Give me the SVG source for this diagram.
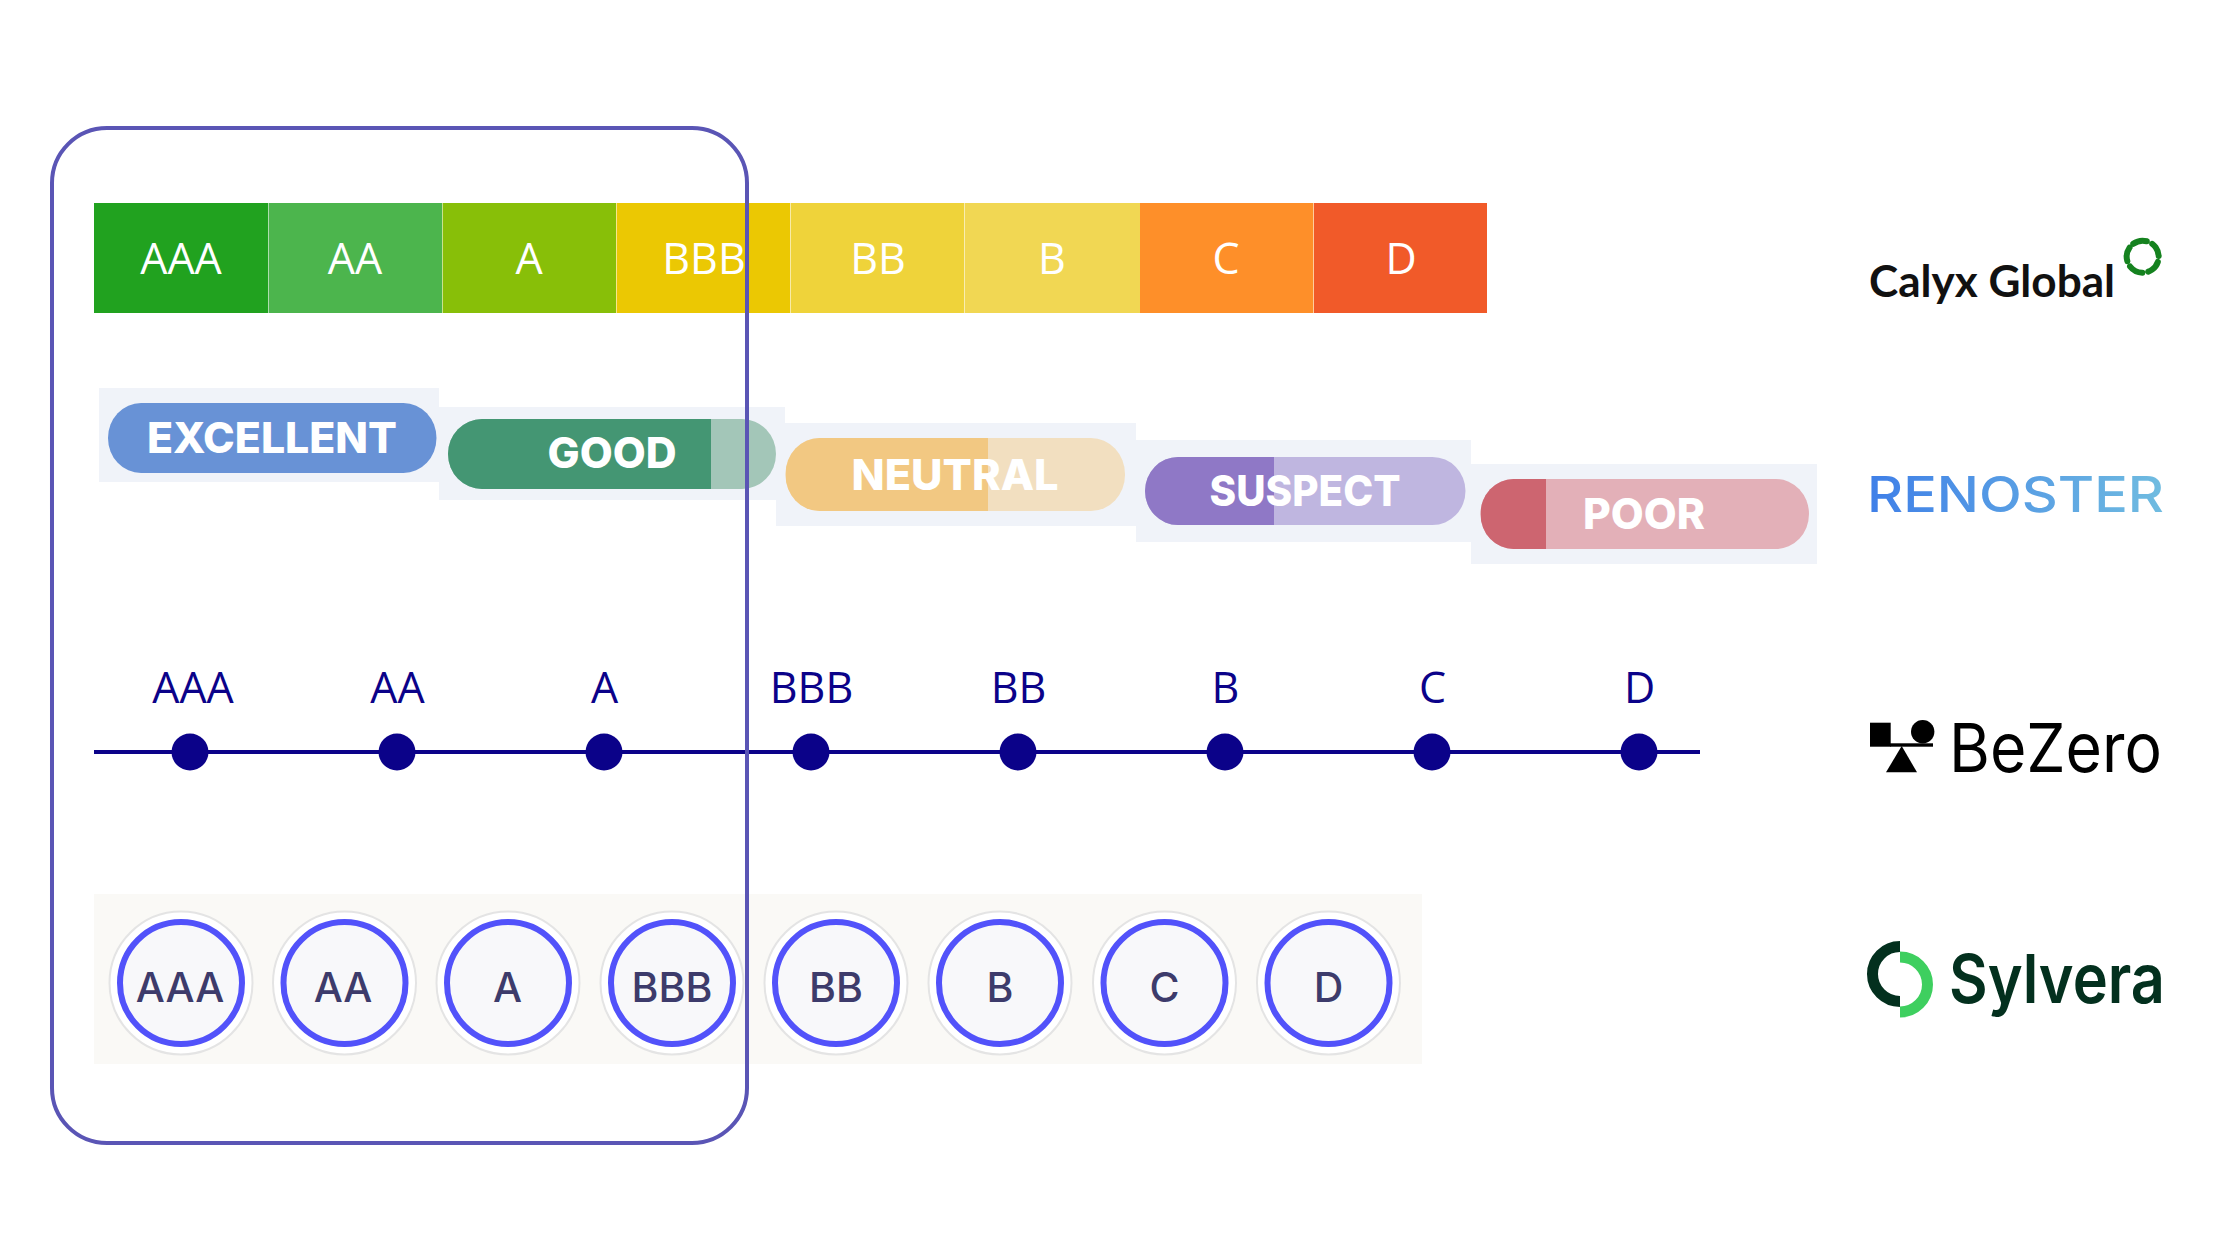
<svg xmlns="http://www.w3.org/2000/svg" width="2240" height="1260" viewBox="0 0 2240 1260">
<defs>
<style>
.bar{font-family:"Open Sans","Liberation Sans",sans-serif;font-size:43px;fill:#fff;text-anchor:middle}
.sep{stroke:#fff;stroke-opacity:.55;stroke-width:1}
.pbg{fill:#f0f3f9}
.ptx{font-family:Inter,"Liberation Sans",sans-serif;font-size:43px;font-weight:800;fill:#fff;text-anchor:middle}
.lbl{font-family:"Open Sans","Liberation Sans",sans-serif;font-size:43px;fill:#0b0289;text-anchor:middle}
.dot{fill:#0b0289}
.out{fill:#fff;stroke:#e4e4e4;stroke-width:2}
.ring{fill:#f8f8fa;stroke:#5252fa;stroke-width:6}
.ctx{font-family:Inter,"Liberation Sans",sans-serif;font-size:41px;font-weight:500;fill:#3d3b6b;text-anchor:middle}
</style>
<linearGradient id="reno" x1="0" y1="0" x2="1" y2="0"><stop offset="0" stop-color="#3f7fe8"/><stop offset="1" stop-color="#70bce0"/></linearGradient>
<clipPath id="cGood"><rect x="448" y="419" width="328" height="70" rx="34" ry="35"/></clipPath>
<clipPath id="cNeutral"><rect x="785.5" y="438" width="339.5" height="73" rx="34" ry="36"/></clipPath>
<clipPath id="cSuspect"><rect x="1145" y="457" width="320.500" height="68" rx="33" ry="34"/></clipPath>
<clipPath id="cPoor"><rect x="1480.500" y="479" width="328.500" height="70" rx="33" ry="35"/></clipPath>
</defs>
<rect width="2240" height="1260" fill="#fff"/>
<g id="calyx-scale">
<rect x="94" y="203" width="174" height="110" fill="#21a21f"/>
<rect x="268" y="203" width="174" height="110" fill="#4cb54d"/>
<rect x="442" y="203" width="174" height="110" fill="#88bf08"/>
<rect x="616" y="203" width="174" height="110" fill="#ebc803"/>
<rect x="790" y="203" width="174" height="110" fill="#efd33a"/>
<rect x="964" y="203" width="176" height="110" fill="#f1d753"/>
<rect x="1140" y="203" width="174" height="110" fill="#fe8f29"/>
<rect x="1314" y="203" width="173" height="110" fill="#f15a29"/>
<path class="sep" d="M268.500 203V313M442.500 203V313M616.500 203V313M790.500 203V313M964.500 203V313M1313.500 203V313"/>
<text class="bar" x="181" y="274">AAA</text>
<text class="bar" x="355" y="274">AA</text>
<text class="bar" x="529" y="274">A</text>
<text class="bar" x="704" y="274">BBB</text>
<text class="bar" x="878" y="274">BB</text>
<text class="bar" x="1052" y="274">B</text>
<text class="bar" x="1226" y="274">C</text>
<text class="bar" x="1401" y="274">D</text>
</g>
<g id="renoster-scale">
<rect class="pbg" x="99" y="388" width="340" height="94"/>
<rect class="pbg" x="439" y="407" width="346" height="93"/>
<rect class="pbg" x="776" y="423" width="360" height="103"/>
<rect class="pbg" x="1136" y="440" width="335" height="102"/>
<rect class="pbg" x="1471" y="464" width="346" height="100"/>
<g id="pill-excellent">
<rect x="108" y="403" width="328.500" height="70" rx="33" ry="35" fill="#6892d6"/>
<text class="ptx" x="272" y="453" textLength="250" lengthAdjust="spacingAndGlyphs">EXCELLENT</text>
</g>
<g id="pill-good">
<rect x="448" y="419" width="328" height="70" rx="34" ry="35" fill="#a3c6b8"/>
<rect x="448" y="419" width="263" height="70" fill="#449673" clip-path="url(#cGood)"/>
<text class="ptx" x="612" y="468" textLength="129" lengthAdjust="spacingAndGlyphs">GOOD</text>
</g>
<g id="pill-neutral">
<rect x="785.500" y="438" width="339.500" height="73" rx="34" ry="36" fill="#f2dfc0"/>
<rect x="785.500" y="438" width="202.500" height="73" fill="#f2c882" clip-path="url(#cNeutral)"/>
<text class="ptx" x="955" y="490" textLength="207" lengthAdjust="spacingAndGlyphs">NEUTRAL</text>
</g>
<g id="pill-suspect">
<rect x="1145" y="457" width="320.500" height="68" rx="33" ry="34" fill="#bfb6e0"/>
<rect x="1145" y="457" width="129" height="68" fill="#8f78c6" clip-path="url(#cSuspect)"/>
<text class="ptx" x="1305" y="506" textLength="191" lengthAdjust="spacingAndGlyphs">SUSPECT</text>
</g>
<g id="pill-poor">
<rect x="1480.500" y="479" width="328.500" height="70" rx="33" ry="35" fill="#e3b0b8"/>
<rect x="1480.500" y="479" width="65.500" height="70" fill="#cd6570" clip-path="url(#cPoor)"/>
<text class="ptx" x="1644" y="529" textLength="122" lengthAdjust="spacingAndGlyphs">POOR</text>
</g>
</g>
<g id="connectors"><path d="M94 752H1700" stroke="#0b0289" stroke-width="4" fill="none"/></g>
<g id="bezero-scale">
<g id="bz-aaa"><circle class="dot" cx="190" cy="752" r="18.500"/><text class="lbl" x="193" y="703">AAA</text></g>
<g id="bz-aa"><circle class="dot" cx="397" cy="752" r="18.500"/><text class="lbl" x="397.500" y="703">AA</text></g>
<g id="bz-a"><circle class="dot" cx="604" cy="752" r="18.500"/><text class="lbl" x="604.500" y="703">A</text></g>
<g id="bz-bbb"><circle class="dot" cx="811" cy="752" r="18.500"/><text class="lbl" x="811.500" y="703">BBB</text></g>
<g id="bz-bb"><circle class="dot" cx="1018" cy="752" r="18.500"/><text class="lbl" x="1018.500" y="703">BB</text></g>
<g id="bz-b"><circle class="dot" cx="1225" cy="752" r="18.500"/><text class="lbl" x="1225.500" y="703">B</text></g>
<g id="bz-c"><circle class="dot" cx="1432" cy="752" r="18.500"/><text class="lbl" x="1432.500" y="703">C</text></g>
<g id="bz-d"><circle class="dot" cx="1639" cy="752" r="18.500"/><text class="lbl" x="1639.500" y="703">D</text></g>
</g>
<g id="sylvera-scale">
<rect x="94" y="894" width="1328" height="170" fill="#faf9f6"/>
<g id="sy-aaa"><circle class="out" cx="181" cy="983" r="71.500"/><circle class="ring" cx="181" cy="983" r="61"/><text class="ctx" x="180" y="1002">AAA</text></g>
<g id="sy-aa"><circle class="out" cx="344.500" cy="983" r="71.500"/><circle class="ring" cx="344.500" cy="983" r="61"/><text class="ctx" x="343" y="1002">AA</text></g>
<g id="sy-a"><circle class="out" cx="508" cy="983" r="71.500"/><circle class="ring" cx="508" cy="983" r="61"/><text class="ctx" x="507.500" y="1002">A</text></g>
<g id="sy-bbb"><circle class="out" cx="672" cy="983" r="71.500"/><circle class="ring" cx="672" cy="983" r="61"/><text class="ctx" x="672" y="1002">BBB</text></g>
<g id="sy-bb"><circle class="out" cx="836" cy="983" r="71.500"/><circle class="ring" cx="836" cy="983" r="61"/><text class="ctx" x="836" y="1002">BB</text></g>
<g id="sy-b"><circle class="out" cx="1000" cy="983" r="71.500"/><circle class="ring" cx="1000" cy="983" r="61"/><text class="ctx" x="1000" y="1002">B</text></g>
<g id="sy-c"><circle class="out" cx="1164.500" cy="983" r="71.500"/><circle class="ring" cx="1164.500" cy="983" r="61"/><text class="ctx" x="1164.500" y="1002">C</text></g>
<g id="sy-d"><circle class="out" cx="1328.500" cy="983" r="71.500"/><circle class="ring" cx="1328.500" cy="983" r="61"/><text class="ctx" x="1328.500" y="1002">D</text></g>
</g>
<g id="frame"><rect x="52" y="128" width="695" height="1015" rx="55" ry="55" fill="none" stroke="#5a55b5" stroke-width="4"/></g>
<g id="logo-calyx">
<text x="1869" y="297" font-family="Lato,'Liberation Sans',sans-serif" font-size="43" font-weight="700" fill="#111" textLength="246" lengthAdjust="spacingAndGlyphs">Calyx Global</text>
<circle cx="2142.700" cy="256.700" r="16" fill="none" stroke="#15821f" stroke-width="6" stroke-linecap="round" stroke-dasharray="14.100 6" transform="rotate(-126 2142.700 256.700)"/>
</g>
<g id="logo-renoster">
<text x="1867" y="512.300" font-family="Inter,'Liberation Sans',sans-serif" font-size="49" font-weight="500" fill="url(#reno)" textLength="297" lengthAdjust="spacingAndGlyphs">RENOSTER</text>
</g>
<g id="logo-bezero">
<rect x="1870" y="722.700" width="20.700" height="24" fill="#000"/>
<circle cx="1922.700" cy="731.700" r="11.700" fill="#000"/>
<rect x="1890" y="743.300" width="43" height="3.400" fill="#000"/>
<path d="M1901.700 746L1917 772.300H1886Z" fill="#000"/>
<text x="1949" y="772.300" font-family="Inter,'Liberation Sans',sans-serif" font-size="68" font-weight="400" fill="#000" textLength="213" lengthAdjust="spacingAndGlyphs">BeZero</text>
</g>
<g id="logo-sylvera">
<path d="M1900 946.500A27.500 27.500 0 0 0 1900 1001.500" fill="none" stroke="#03301e" stroke-width="11"/>
<path d="M1900 957A27.500 27.500 0 0 1 1900 1012" fill="none" stroke="#3ecf5f" stroke-width="11"/>
<text x="1949" y="1003" font-family="Inter,'Liberation Sans',sans-serif" font-size="68" font-weight="600" fill="#03301e" textLength="216" lengthAdjust="spacingAndGlyphs">Sylvera</text>
</g>
</svg>
